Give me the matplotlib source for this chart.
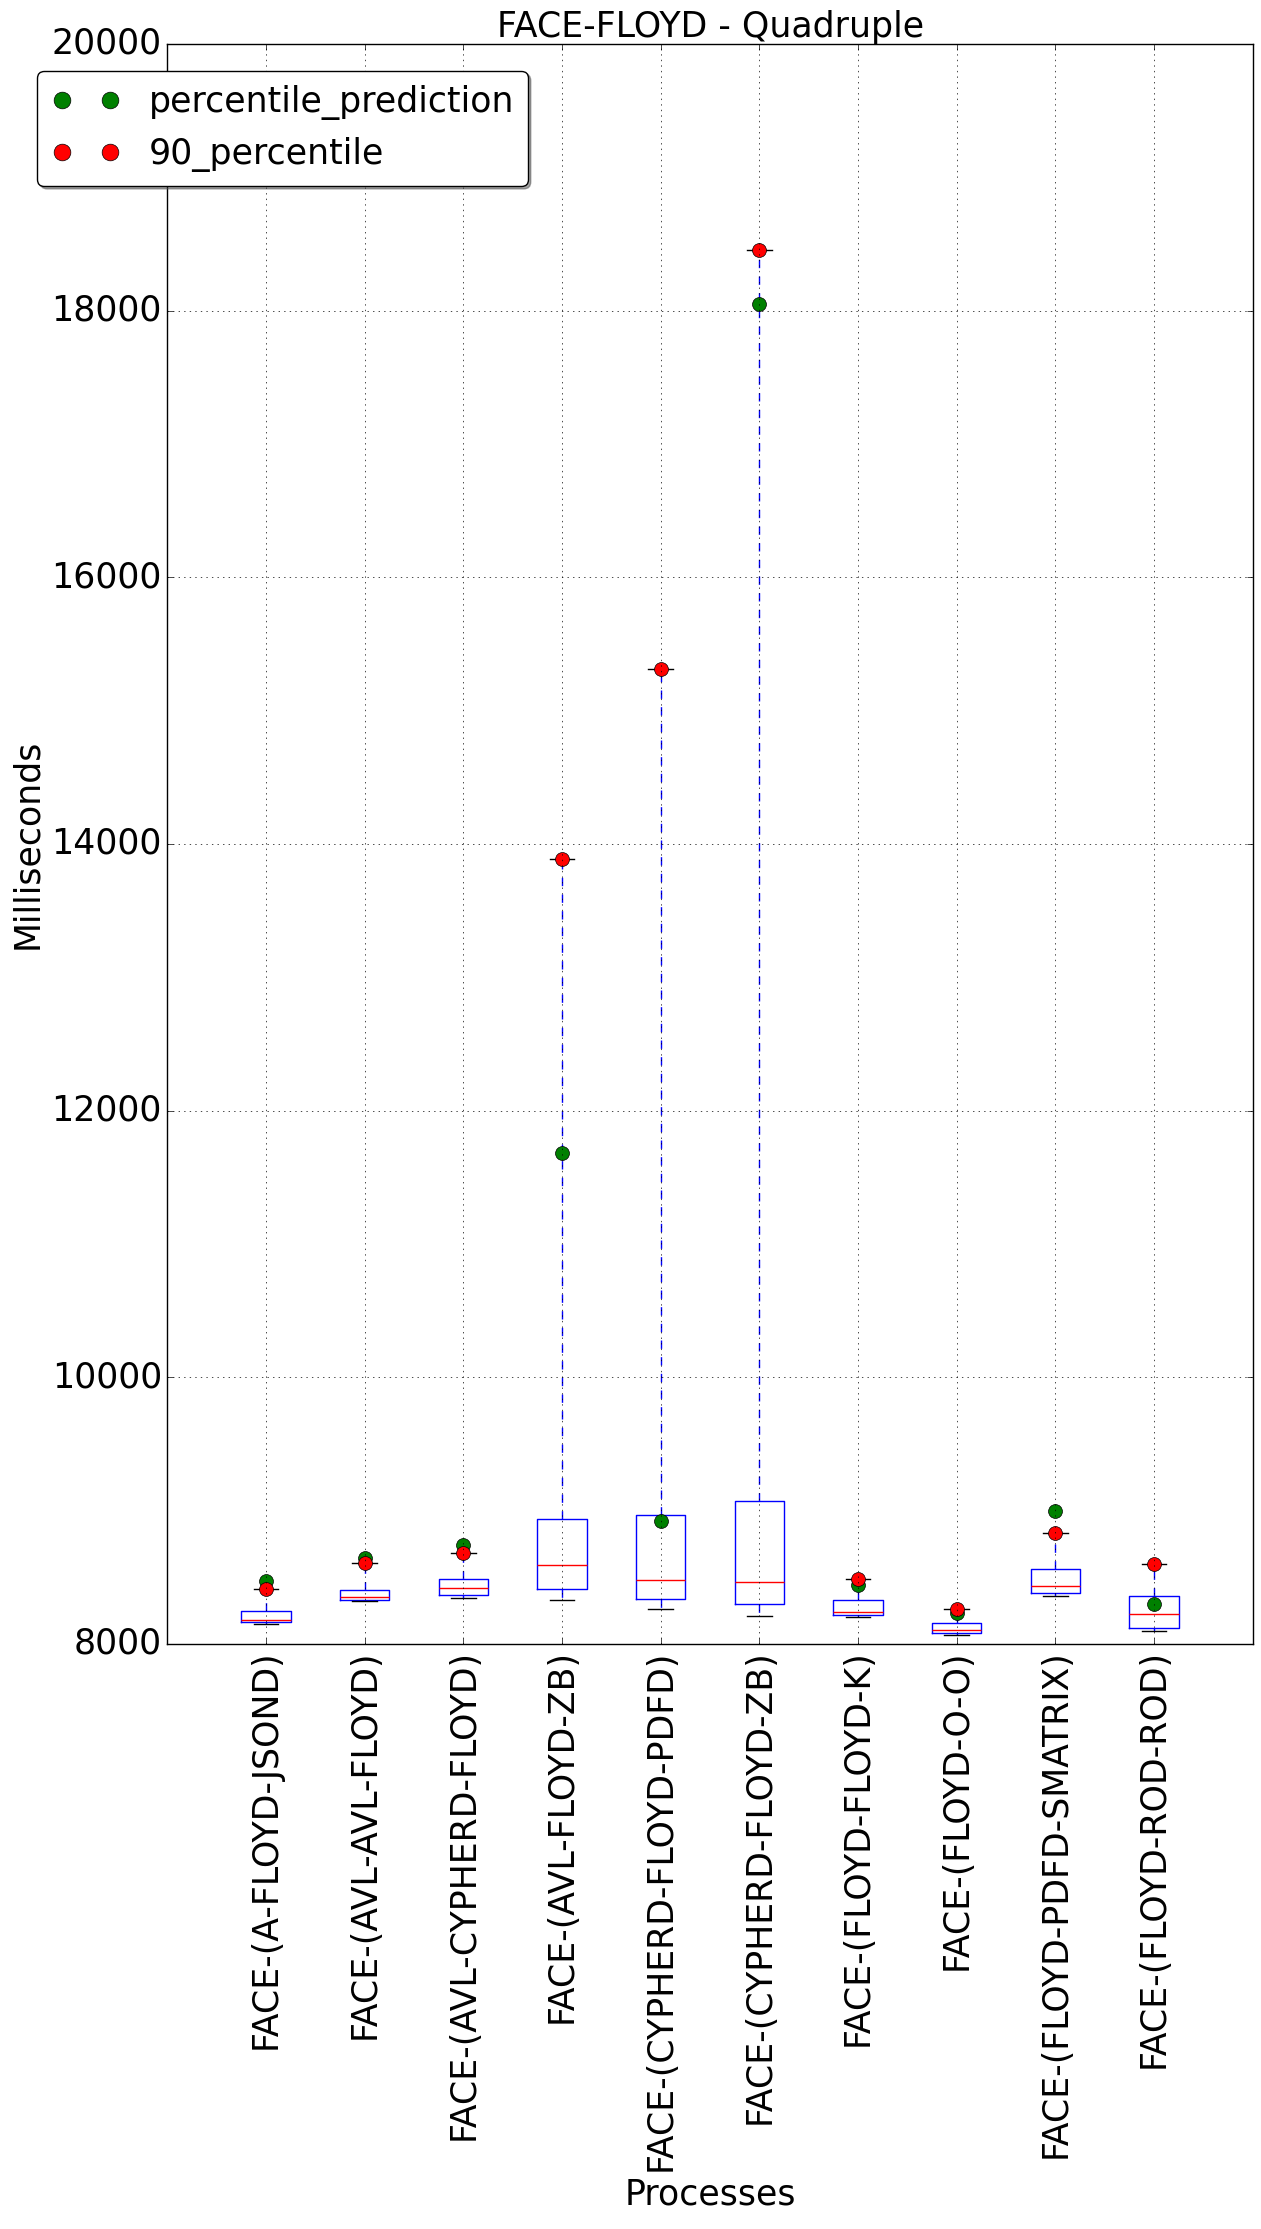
import matplotlib
matplotlib.use('Agg')
import matplotlib.pyplot as plt

plt.style.use('classic')
plt.rcParams['font.family'] = ['DejaVu Sans']
plt.rcParams['font.size'] = 25

processes = [
    'FACE-(A-FLOYD-JSOND)',
    'FACE-(AVL-AVL-FLOYD)',
    'FACE-(AVL-CYPHERD-FLOYD)',
    'FACE-(AVL-FLOYD-ZB)',
    'FACE-(CYPHERD-FLOYD-PDFD)',
    'FACE-(CYPHERD-FLOYD-ZB)',
    'FACE-(FLOYD-FLOYD-K)',
    'FACE-(FLOYD-O-O)',
    'FACE-(FLOYD-PDFD-SMATRIX)',
    'FACE-(FLOYD-ROD-ROD)',
]
whisker_low = [8150, 8323, 8346, 8331, 8263, 8206, 8203, 8068, 8356, 8098]
q1 = [8163, 8328, 8369, 8414, 8338, 8301, 8216, 8080, 8384, 8120]
median = [8178, 8348, 8421, 8594, 8481, 8466, 8241, 8105, 8436, 8221]
q3 = [8248, 8406, 8489, 8940, 8963, 9068, 8331, 8158, 8564, 8361]
percentile_90 = [8409, 8604, 8684, 13885, 15315, 18452, 8484, 8263, 8830, 8597]
percentile_prediction = [8469, 8647, 8740, 11680, 8920, 18050, 8444, 8233, 8995, 8296]

fig = plt.figure(figsize=(12.61, 22.29), dpi=100, facecolor='white')
fig.subplots_adjust(left=0.1328, right=0.9934, top=0.9803, bottom=0.2625)
ax = fig.add_subplot(111)

positions = list(range(1, len(processes) + 1))
stats = [dict(label=p, whislo=lo, q1=a, med=m, q3=b, whishi=hi)
         for p, lo, a, m, b, hi in zip(processes, whisker_low, q1, median, q3, percentile_90)]
ax.bxp(stats, positions=positions, widths=0.5, showfliers=False)

ax.plot(positions, percentile_prediction, 'o', color=(0, 0.5, 0), markersize=10,
        markeredgecolor='k', markeredgewidth=0.5, label='percentile_prediction')
ax.plot(positions, percentile_90, 'o', color=(1, 0, 0), markersize=10,
        markeredgecolor='k', markeredgewidth=0.5, label='90_percentile')

ax.set_xlim(0, 11)
ax.set_ylim(8000, 20000)
ax.set_yticks(range(8000, 20001, 2000))
ax.set_xticks(positions)
ax.set_xticklabels(processes, rotation=90, fontsize=25)
ax.tick_params(axis='y', labelsize=25)
ax.grid(True)

ax.set_title('FACE-FLOYD - Quadruple', fontsize=25)
ax.set_xlabel('Processes', fontsize=25)
ax.set_ylabel('Milliseconds', fontsize=25)

ax.legend(loc='upper left', bbox_to_anchor=(-0.1198, 0.9831), borderaxespad=0,
          numpoints=2, fancybox=True, shadow=True, fontsize=25, markerscale=1.2)

fig.savefig('out.png', dpi=100, facecolor='white')
